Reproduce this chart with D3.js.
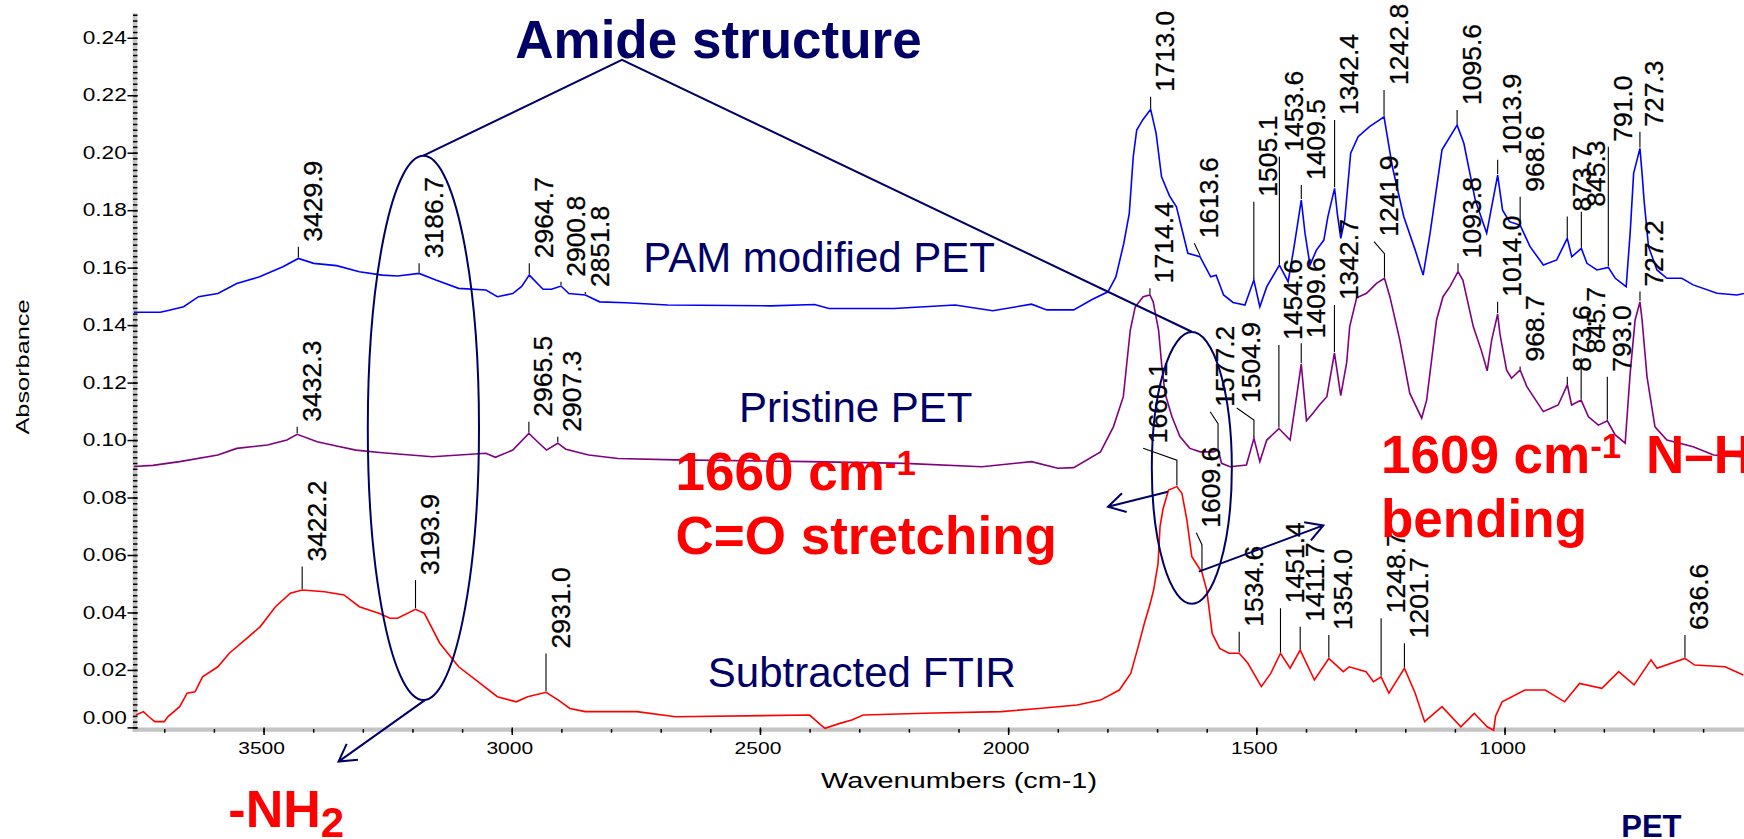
<!DOCTYPE html>
<html>
<head>
<meta charset="utf-8">
<title>FTIR spectra - PAM modified PET</title>
<script src="https://cdn.jsdelivr.net/npm/d3@7"></script>
<style>
  body { margin: 0; background: #ffffff; }
  #chart svg { display: block; font-family: "Liberation Sans", Arial, sans-serif; }
</style>
</head>
<body>
<div id="chart"></div>
<script>
// spectra: [wavenumber (cm-1), absorbance]
var pamModified = [
  [3761,0.1445],[3708,0.1445],[3690,0.1452],[3661,0.1464],[3631,0.1499],[3592,0.1510],[3554,0.1545],
  [3508,0.1568],[3461,0.1603],[3429.9,0.1632],[3399,0.1615],[3353,0.1607],[3307,0.1586],[3261,0.1574],
  [3230,0.1571],[3186.7,0.1580],[3153,0.1557],[3107,0.1528],[3052,0.1522],[3029,0.1499],[2998,0.1510],
  [2980,0.1535],[2964.7,0.1574],[2937,0.1525],[2920,0.1525],[2900.8,0.1536],[2885,0.1510],[2851.8,0.1505],
  [2823,0.1481],[2770,0.1478],[2686,0.1470],[2478,0.1467],[2390,0.1472],[2361,0.1458],[2230,0.1458],
  [2107,0.1470],[2031,0.1450],[1953,0.1473],[1922,0.1453],[1868,0.1453],[1830,0.1490],[1799,0.1516],
  [1783,0.1568],[1767,0.1685],[1756,0.1789],[1748,0.1986],[1741,0.2079],[1729,0.2114],[1713.0,0.2151],
  [1702,0.2068],[1691,0.1916],[1675,0.1850],[1661,0.1812],[1638,0.1650],[1613.6,0.1638],[1592,0.1568],
  [1581,0.1574],[1566,0.1505],[1547,0.1479],[1523,0.1470],[1505.1,0.1557],[1493,0.1464],[1479,0.1534],
  [1453.6,0.1609],[1436,0.1551],[1424,0.1673],[1409.5,0.1835],[1402,0.1720],[1392,0.1609],[1379,0.1661],
  [1364,0.1696],[1356,0.1777],[1342.4,0.1876],[1337,0.1790],[1330,0.1702],[1322,0.1766],[1310,0.1998],
  [1295,0.2056],[1272,0.2091],[1242.8,0.2125],[1226,0.1951],[1203,0.1777],[1180,0.1661],[1164,0.1574],
  [1150,0.1720],[1126,0.2010],[1095.6,0.2096],[1082,0.2033],[1059,0.1835],[1036,0.1720],[1013.9,0.1922],
  [1004,0.1800],[990,0.1760],[968.6,0.1748],[948.6,0.1673],[921.8,0.1609],[895,0.1627],[873.7,0.1702],
  [864.6,0.1638],[845.3,0.1667],[834,0.1615],[814,0.1592],[791.0,0.1601],[777,0.1563],[755,0.1534],
  [747,0.1720],[740,0.1928],[727.3,0.2015],[723,0.1928],[719,0.1835],[710,0.1673],[693,0.1592],
  [673,0.1563],[643,0.1563],[620,0.1540],[572,0.1511],[532,0.1505],[500,0.1516]
];

var pristine = [
  [3761,0.0908],[3723,0.0912],[3669,0.0925],[3592,0.0948],[3554,0.0971],[3492,0.0983],[3453,0.1000],
  [3432.3,0.1020],[3392,0.0994],[3353,0.0979],[3314,0.0965],[3261,0.0956],[3160,0.0942],[3052,0.0954],
  [3033,0.0940],[2998,0.0965],[2965.5,0.1023],[2945,0.0989],[2930,0.0965],[2907.3,0.0989],[2891,0.0968],
  [2845,0.0948],[2786,0.0936],[2670,0.0931],[2400,0.0925],[2208,0.0919],[2053,0.0907],[1953,0.0925],
  [1900,0.0902],[1868,0.0904],[1814,0.0959],[1788,0.1046],[1768,0.1151],[1754,0.1383],[1744,0.1464],
  [1728,0.1499],[1714.4,0.1505],[1708,0.1482],[1697,0.1383],[1691,0.1267],[1684,0.1163],[1670,0.1081],
  [1654,0.1012],[1634,0.0971],[1613,0.0959],[1587,0.0959],[1577.2,0.0965],[1570,0.0919],[1553,0.0907],
  [1520,0.0913],[1504.9,0.1006],[1493,0.0925],[1479,0.1000],[1454.6,0.1040],[1432,0.1000],[1419,0.1151],
  [1409.6,0.1264],[1399,0.1067],[1386,0.1093],[1373,0.1122],[1358,0.1151],[1342.7,0.1303],[1330,0.1155],
  [1318,0.1270],[1312,0.1395],[1298,0.1495],[1278,0.1511],[1258,0.1545],[1241.9,0.1563],[1231,0.1499],
  [1211,0.1348],[1191,0.1163],[1167,0.1076],[1157,0.1139],[1137,0.1418],[1124,0.1499],[1110,0.1534],
  [1093.8,0.1586],[1084,0.1557],[1063,0.1395],[1047,0.1313],[1035,0.1241],[1026,0.1348],[1014.0,0.1438],
  [1009,0.1366],[996,0.1244],[986,0.1215],[968.7,0.1244],[955,0.1186],[922,0.1099],[908,0.1110],
  [892,0.1122],[873.6,0.1192],[865,0.1122],[845.7,0.1139],[831,0.1081],[811,0.1052],[793.0,0.1067],
  [777,0.1018],[757,0.0989],[747,0.1232],[737,0.1418],[727.2,0.1481],[723,0.1418],[713,0.1220],
  [697,0.1046],[673,0.1000],[620,0.0977],[579,0.0948],[525,0.0942],[500,0.0942]
];

var subtracted = [
  [3757,0.0043],[3742,0.0055],[3731,0.0037],[3719,0.0020],[3700,0.0020],[3693,0.0037],[3669,0.0072],
  [3654,0.0119],[3638,0.0124],[3623,0.0176],[3592,0.0211],[3569,0.0258],[3538,0.0304],[3507,0.0350],
  [3476,0.0420],[3446,0.0467],[3422.2,0.0478],[3377,0.0472],[3338,0.0461],[3307,0.0420],[3268,0.0397],
  [3245,0.0380],[3230,0.0380],[3193.9,0.0411],[3176,0.0397],[3145,0.0293],[3107,0.0211],[3068,0.0159],
  [3029,0.0107],[2991,0.0089],[2968,0.0107],[2931.0,0.0122],[2906,0.0095],[2883,0.0066],[2852,0.0055],
  [2817,0.0055],[2748,0.0055],[2670,0.0037],[2400,0.0043],[2377,0.0008],[2369,-0.0003],[2339,0.0014],
  [2315,0.0026],[2292,0.0043],[2169,0.0049],[2014,0.0055],[1938,0.0066],[1861,0.0078],[1814,0.0095],
  [1776,0.0130],[1753,0.0188],[1738,0.0281],[1726,0.0360],[1714,0.0430],[1707,0.0478],[1698,0.0571],
  [1694,0.0700],[1688,0.0760],[1677,0.0826],[1660.1,0.0838],[1650,0.0815],[1640,0.0722],[1630,0.0594],
  [1617,0.0559],[1609.6,0.0540],[1600,0.0478],[1589,0.0327],[1574,0.0275],[1555,0.0258],[1534.6,0.0258],
  [1517,0.0223],[1490,0.0142],[1471,0.0188],[1451.4,0.0258],[1432,0.0206],[1411.7,0.0269],[1383,0.0165],
  [1354.0,0.0240],[1325,0.0194],[1313,0.0211],[1279,0.0194],[1264,0.0159],[1248.7,0.0176],[1233,0.0119],
  [1201.7,0.0206],[1180,0.0119],[1161,0.0020],[1126,0.0072],[1088,0.0002],[1061,0.0049],[1035,0.0002],
  [1022,-0.0010],[1018,0.0040],[1005,0.0089],[959,0.0130],[918,0.0130],[879,0.0089],[849,0.0153],
  [804,0.0136],[770,0.0194],[739,0.0148],[705,0.0235],[693,0.0206],[636.6,0.0240],[617,0.0217],
  [556,0.0211],[519,0.0182]
];

// peak labels: [label, wavenumber at the foot of the label, absorbance at the foot of the label]
var pamLabels = [
  ["3429.9",3429.9,0.1690],["3186.7",3186.7,0.1633],["2964.7",2964.7,0.1633],["2900.8",2900.8,0.1568],
  ["2851.8",2851.8,0.1533],["1713.0",1713.0,0.2212],["1613.6",1625,0.1702],["1505.1",1505.1,0.1847],
  ["1453.6",1453.6,0.2003],["1409.5",1409.5,0.1905],["1342.4",1342.4,0.2131],["1242.8",1242.8,0.2236],
  ["1095.6",1095.6,0.2166],["1013.9",1013.9,0.1993],["968.6",968.6,0.1864],["873.7",873.7,0.1795],
  ["845.3",845.3,0.1812],["791.0",791.0,0.2038],["727.3",727.3,0.2090]
];
var pristineLabels = [
  ["3432.3",3432.3,0.1064],["2965.5",2965.5,0.1081],["2907.3",2907.3,0.1029],["1714.4",1714.4,0.1546],
  ["1577.2",1593,0.1116],["1504.9",1539.5,0.1129],["1454.6",1454.6,0.1348],["1409.6",1409.6,0.1354],
  ["1342.7",1342.7,0.1487],["1241.9",1263,0.1708],["1093.8",1093.8,0.1633],["1014.0",1014.0,0.1499],
  ["968.7",968.7,0.1273],["873.6",873.6,0.1238],["845.7",845.7,0.1302],["793.0",793.0,0.1238],
  ["727.2",727.2,0.1534]
];
var subtractedLabels = [
  ["3422.2",3422.2,0.0577],["3193.9",3193.9,0.0530],["2931.0",2931.0,0.0275],["1660.1",1728,0.0989],
  ["1609.6",1621,0.0695],["1534.6",1534.6,0.0350],["1451.4",1451.4,0.0432],["1411.7",1411.7,0.0368],
  ["1354.0",1354.0,0.0339],["1248.7",1248.7,0.0397],["1201.7",1201.7,0.0310],["636.6",636.6,0.0339]
];

var seriesNames = ["PAM modified PET", "Pristine PET", "Subtracted FTIR"];
var yTicks = [0, 0.02, 0.04, 0.06, 0.08, 0.10, 0.12, 0.14, 0.16, 0.18, 0.20, 0.22, 0.24];
var xTicks = [3500, 3000, 2500, 2000, 1500, 1000];

// absorbance of a spectrum at wavenumber w (spectra run from high to low wavenumber)
function valueAt(series, w)
{
  for (var i = 1; i < series.length; i++) {
    var a = series[i - 1], b = series[i];
    if (w <= a[0] && w >= b[0]) return a[1] + (b[1] - a[1]) * (w - a[0]) / (b[0] - a[0]);
  }
  return series[series.length - 1][1];
}

function peakLabels(svg, series, labels, xScale, yScale)
{
  var g = svg.append("g");

  labels.forEach(function(p) {
    var px = xScale(+p[0]);
    var py = yScale(valueAt(series, +p[0]));
    var ax = xScale(p[1]);
    var ay = yScale(p[2]);

    var pts = [[px, py - 1]];
    if (Math.abs(ax - px) > 2) pts.push([px, ay + 17]);   // leader bends over to a shifted label
    pts.push([ax, ay + 5]);

    g.append("path")
      .attr("d", d3.line()(pts))
      .style("fill", "none")
      .style("stroke", "#000")
      .style("stroke-width", "1.1");

    g.append("text")
      .attr("transform", "translate(" + (ax + 23.5) + "," + ay + ") rotate(-90)")
      .style("font-size", "26.5px")
      .style("fill", "#000")
      .style("stroke", "#000")
      .style("stroke-width", "0.3")
      .text(p[0]);
  });
}

function arrow(g, xScale, yScale, from, to)
{
  var x1 = xScale(from[0]), y1 = yScale(from[1]);
  var x2 = xScale(to[0]), y2 = yScale(to[1]);
  var a = Math.atan2(y2 - y1, x2 - x1);
  var len = 19.5, spread = 0.52;

  g.append("path")
    .attr("d", "M" + x1 + "," + y1 + "L" + x2 + "," + y2 +
               "M" + (x2 - len * Math.cos(a - spread)) + "," + (y2 - len * Math.sin(a - spread)) +
               "L" + x2 + "," + y2 +
               "L" + (x2 - len * Math.cos(a + spread)) + "," + (y2 - len * Math.sin(a + spread)))
    .style("fill", "none");
}

function init()
{
  var width = 1744, height = 839;
  var axisY = 727.5;
  var navy = "#000066";

  var svg = d3.select("#chart")
    .append("svg")
    .attr("width", width)
    .attr("height", height);

  var xScale = d3.scaleLinear()
    .domain([3761, 400])
    .range([134, 1802.4]);

  var yScale = d3.scaleLinear()
    .domain([0, 0.2485])
    .range([727.4, 13.35]);

  // grey axis bars
  svg.append("line")
    .attr("x1", 135).attr("x2", 135)
    .attr("y1", yScale(0.2485)).attr("y2", axisY + 4.2)
    .style("stroke", "#c4c4c4")
    .style("stroke-width", "4.6");

  svg.append("line")
    .attr("x1", 132.7).attr("x2", width)
    .attr("y1", axisY + 2.1).attr("y2", axisY + 2.1)
    .style("stroke", "#c4c4c4")
    .style("stroke-width", "4.2");

  // y axis: minor ticks every 0.002, labelled ticks every 0.02
  var yMinor = d3.range(0, 125).map(function(i) {return i * 0.002;});

  var yMinorAxis = svg.append("g")
    .attr("transform", "translate(137.5,0)")
    .call(d3.axisLeft(yScale).tickValues(yMinor).tickSize(4.5).tickFormat(""));
  yMinorAxis.select(".domain").remove();

  var yAxis = svg.append("g")
    .attr("transform", "translate(137.5,0)")
    .call(d3.axisLeft(yScale).tickValues(yTicks).tickSize(10).tickPadding(0.8).tickFormat(d3.format(".2f")));
  yAxis.select(".domain").remove();

  yAxis.selectAll("text")
    .style("font-family", "'Liberation Sans', Arial, sans-serif")
    .style("font-size", "17.5px")
    .style("fill", "#000")
    .attr("textLength", 44)
    .attr("lengthAdjust", "spacingAndGlyphs");
  yAxis.selectAll("text").filter(function(d) {return d === 0;}).attr("y", -10);

  // x axis: minor ticks every 100 cm-1
  var xMinor = d3.range(3700, 400, -100);

  var xMinorAxis = svg.append("g")
    .attr("transform", "translate(0," + (axisY + 1.5) + ")")
    .call(d3.axisBottom(xScale).tickValues(xMinor).tickSize(3.7).tickFormat(""));
  xMinorAxis.select(".domain").remove();

  var xAxis = svg.append("g")
    .attr("transform", "translate(0," + axisY + ")")
    .call(d3.axisBottom(xScale).tickValues(xTicks).tickSize(7.5).tickPadding(6.7).tickFormat(d3.format("d")));
  xAxis.select(".domain").remove();

  xAxis.selectAll("text")
    .attr("dx", -2.5)
    .style("font-family", "'Liberation Sans', Arial, sans-serif")
    .style("font-size", "17px")
    .style("fill", "#000")
    .attr("textLength", 46.7)
    .attr("lengthAdjust", "spacingAndGlyphs");

  svg.selectAll(".tick line")
    .style("stroke", "#000")
    .style("stroke-width", "1.5");

  // axis titles
  svg.append("text")
    .attr("x", 959)
    .attr("y", 788.3)
    .attr("text-anchor", "middle")
    .attr("textLength", 276)
    .attr("lengthAdjust", "spacingAndGlyphs")
    .style("font-size", "22px")
    .text("Wavenumbers (cm-1)");

  svg.append("text")
    .attr("transform", "translate(28.7,367) rotate(-90)")
    .attr("text-anchor", "middle")
    .attr("textLength", 135)
    .attr("lengthAdjust", "spacingAndGlyphs")
    .style("font-size", "19px")
    .text("Absorbance");

  // spectra
  var line = d3.line()
    .x(function(d) {return xScale(d[0]);})
    .y(function(d) {return yScale(d[1]);});

  svg.append("path")
    .datum(pamModified)
    .attr("d", line)
    .style("fill", "none")
    .style("stroke", "#0000ff")
    .style("stroke-width", "1.6");

  svg.append("path")
    .datum(pristine)
    .attr("d", line)
    .style("fill", "none")
    .style("stroke", "#800080")
    .style("stroke-width", "1.6");

  svg.append("path")
    .datum(subtracted)
    .attr("d", line)
    .style("fill", "none")
    .style("stroke", "#ff0000")
    .style("stroke-width", "1.6");

  peakLabels(svg, pamModified, pamLabels, xScale, yScale);
  peakLabels(svg, pristine, pristineLabels, xScale, yScale);
  peakLabels(svg, subtracted, subtractedLabels, xScale, yScale);

  // series names
  var names = svg.append("g")
    .style("fill", navy)
    .style("font-size", "42px");

  names.append("text").attr("x", xScale(2735)).attr("y", yScale(0.1586)).text(seriesNames[0]);
  names.append("text").attr("x", xScale(2542)).attr("y", yScale(0.1064)).text(seriesNames[1]);
  names.append("text").attr("x", xScale(2605)).attr("y", yScale(0.0142)).text(seriesNames[2]);

  // amide annotation: title, connector, ellipses and arrows
  var notes = svg.append("g")
    .style("fill", "none")
    .style("stroke", navy)
    .style("stroke-width", "2");

  notes.append("path")
    .attr("d", d3.line()([
      [xScale(3178), yScale(0.1990)],
      [xScale(2778), yScale(0.2323)],
      [xScale(1630), yScale(0.1377)]
    ]));

  notes.append("ellipse")
    .attr("cx", xScale(3178))
    .attr("cy", yScale(0.1042))
    .attr("rx", xScale(3178 - 112) - xScale(3178))
    .attr("ry", yScale(0) - yScale(0.0947));

  notes.append("ellipse")
    .attr("cx", xScale(1630))
    .attr("cy", yScale(0.0903))
    .attr("rx", xScale(1630 - 80.6) - xScale(1630))
    .attr("ry", yScale(0) - yScale(0.0473));

  arrow(notes, xScale, yScale, [3175, 0.0095], [3349, -0.0119]);
  arrow(notes, xScale, yScale, [1678, 0.0820], [1799, 0.0768]);
  arrow(notes, xScale, yScale, [1616, 0.0542], [1365, 0.0703]);

  svg.append("text")
    .attr("x", xScale(2993))
    .attr("y", yScale(0.2329))
    .style("fill", navy)
    .style("font-size", "53px")
    .style("font-weight", "bold")
    .text("Amide structure");

  svg.append("text")
    .attr("x", xScale(765))
    .attr("y", 837)
    .style("fill", navy)
    .style("font-size", "31px")
    .style("font-weight", "bold")
    .text("PET");

  // red band assignments
  var red = svg.append("g")
    .style("fill", "#ff0000")
    .style("font-weight", "bold")
    .style("font-size", "53px");

  var co = red.append("text").attr("x", xScale(2670)).attr("y", yScale(0.0826));
  co.append("tspan").text("1660 cm");
  co.append("tspan").attr("dy", -15).style("font-size", "35px").text("-1");
  red.append("text").attr("x", xScale(2670)).attr("y", yScale(0.0603)).text("C=O stretching");

  var nh = red.append("text").attr("x", xScale(1249)).attr("y", yScale(0.0884));
  nh.append("tspan").text("1609 cm");
  nh.append("tspan").attr("dy", -15).style("font-size", "35px").text("-1");
  nh.append("tspan").attr("dy", 15).attr("dx", 10).text(" N\u2013H");
  red.append("text").attr("x", xScale(1249)).attr("y", yScale(0.0664)).text("bending");

  var nh2 = red.append("text").attr("x", xScale(3571)).attr("y", yScale(-0.0346)).style("font-size", "52px");
  nh2.append("tspan").text("-NH");
  nh2.append("tspan").attr("dy", 10).style("font-size", "42px").text("2");
}

window.onload = init;
</script>
</body>
</html>
